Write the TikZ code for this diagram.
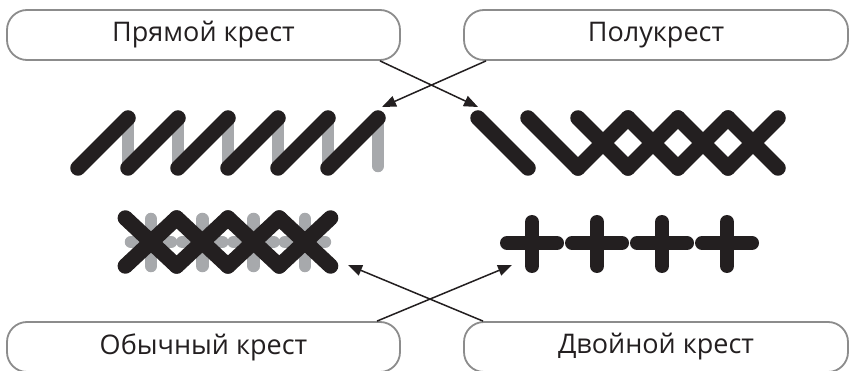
\documentclass[tikz,border=0pt]{standalone}
\usepackage{fontspec}
\setmainfont{Open Sans}
\usetikzlibrary{arrows.meta}
\definecolor{stblack}{HTML}{231F20}
\definecolor{stgrey}{HTML}{A7A9AC}
\definecolor{boxgrey}{HTML}{8C8C8C}
\tikzset{
  lbl/.style={draw=boxgrey, line width=1.8pt, rounded corners=20pt, minimum height=50pt,
    font=\fontsize{27}{32}\selectfont, text=stblack, inner sep=0pt},
  arr/.style={-{Triangle[length=14pt,width=11pt]}, line width=1.5pt, draw=stblack, fill=stblack},
  blk/.style={line width=15.5pt, line cap=round, draw=stblack},
  gry/.style={line width=12.5pt, line cap=round, draw=stgrey},
}
\begin{document}
\begin{tikzpicture}[x=1pt,y=-1pt]
\clip (0,0) rectangle (850,371);
\fill[white] (0,0) rectangle (850,371);
% label boxes
\node[lbl, minimum width=393pt] (b1) at (203.5,35) {Прямой крест};
\node[lbl, minimum width=384pt] (b2) at (656,35) {Полукрест};
\node[lbl, minimum width=393pt] (b3) at (203.5,347) {Обычный крест};
\node[lbl, minimum width=384pt] (b4) at (656,347) {Двойной крест};
% arrow tips
\coordinate (t1) at (478,107);
\coordinate (t2) at (382,107);
\coordinate (t3) at (512,265);
\coordinate (t4) at (348,265);
\draw[arr] ([xshift=176.5pt]b1.south) -- (t1);
\draw[arr] ([xshift=-170pt]b2.south) -- (t2);
\draw[arr] ([xshift=173.5pt]b3.north) -- (t3);
\draw[arr] ([xshift=-173pt]b4.north) -- (t4);
% Прямой крест
\foreach \i in {0,...,5} {
  \draw[gry] (128+50*\i,118) -- (128+50*\i,166);
}
\foreach \i in {0,...,5} {
  \draw[blk] (78+50*\i,168) -- (128+50*\i,118);
}
% Полукрест
\draw[blk] (478,118) -- (528,168);
\draw[blk] (528,118) -- (578,168);
\foreach \i in {0,...,3} {
  \draw[blk] (578+50*\i,118) -- (628+50*\i,168);
  \draw[blk] (578+50*\i,168) -- (628+50*\i,118);
}
% Обычный крест
\foreach \i in {0,...,3} {
  \draw[gry] (151+51.3*\i,219) -- (151+51.3*\i,266);
  \draw[gry] (151+51.3*\i-20,242) -- (151+51.3*\i+20,242);
}
\foreach \i in {0,...,3} {
  \draw[blk] (151+51.3*\i-25.65,218) -- (151+51.3*\i+25.65,266);
  \draw[blk] (151+51.3*\i-25.65,266) -- (151+51.3*\i+25.65,218);
}
% Двойной крест
\foreach \j in {0,...,3} {
  \draw[blk, line width=14pt] (532+65*\j,222) -- (532+65*\j,266);
  \draw[blk, line width=14pt] (532+65*\j-25,243) -- (532+65*\j+25,243);
}
\end{tikzpicture}
\end{document}
